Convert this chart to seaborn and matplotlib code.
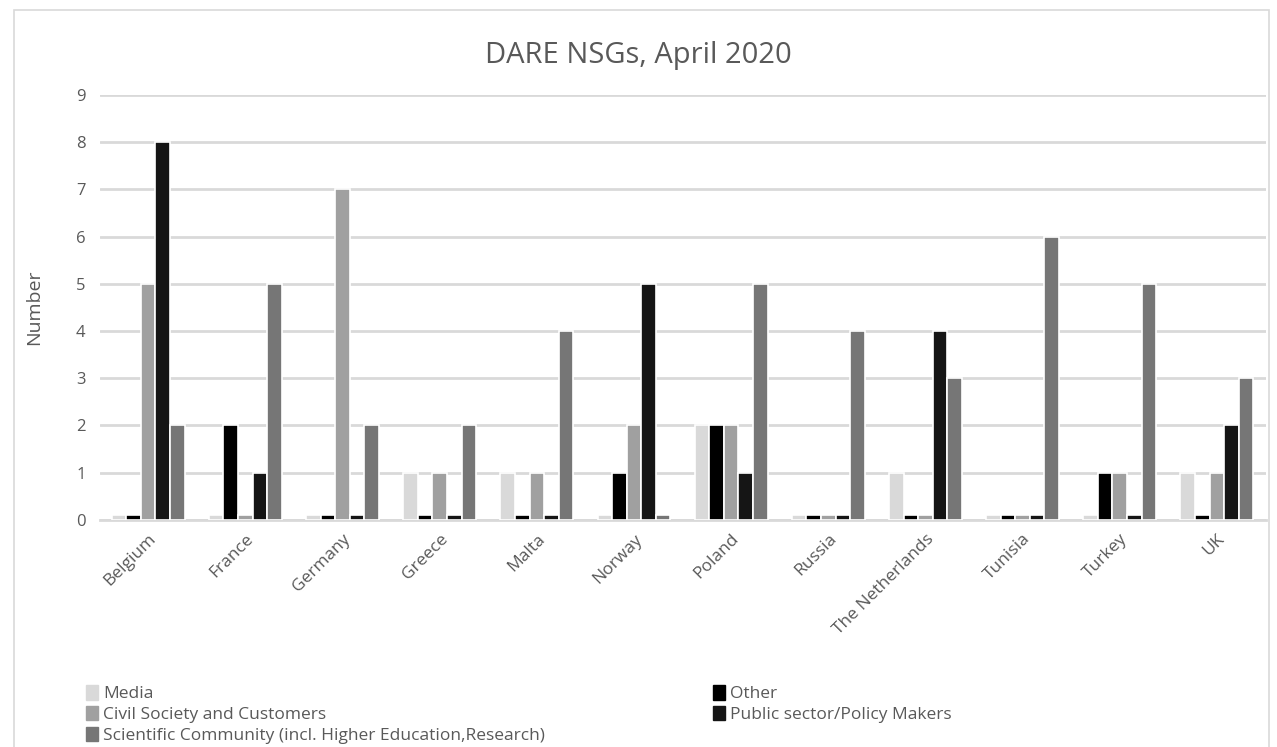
import pandas as pd
import matplotlib.pyplot as plt
import matplotlib.patches as mpatches
import seaborn as sns

# Chart data (zeros drawn as small 0.1 stubs like the original)
countries = ["Belgium", "France", "Germany", "Greece", "Malta", "Norway",
             "Poland", "Russia", "The Netherlands", "Tunisia", "Turkey", "UK"]
groups = ["Media", "Other", "Civil Society and Customers",
          "Public sector/Policy Makers",
          "Scientific Community (incl. Higher Education,Research)"]
media = [0.1, 0.1, 0.1, 1, 1, 0.1, 2, 0.1, 1, 0.1, 0.1, 1]
other = [0.1, 2, 0.1, 0.1, 0.1, 1, 2, 0.1, 0.1, 0.1, 1, 0.1]
civil = [5, 0.1, 7, 1, 1, 2, 2, 0.1, 0.1, 0.1, 1, 1]
public = [8, 1, 0.1, 0.1, 0.1, 5, 1, 0.1, 4, 0.1, 0.1, 2]
science = [2, 5, 2, 2, 4, 0.1, 5, 4, 3, 6, 5, 3]
colors = ["#d9d9d9", "#000000", "#a0a0a0", "#151515", "#767676"]

rows = []
for g, vals in zip(groups, [media, other, civil, public, science]):
    for c, v in zip(countries, vals):
        rows.append({"country": c, "group": g, "value": v})
df = pd.DataFrame(rows)

sns.set_style("white")
plt.rcParams["font.family"] = ["Open Sans", "DejaVu Sans"]
text_col = "#595959"

fig = plt.figure(figsize=(12.77, 7.47), dpi=100)
ax = fig.add_axes([0.078, 0.304, 0.913, 0.569])

sns.barplot(data=df, x="country", y="value", hue="group", hue_order=groups,
            palette=colors, width=0.75, edgecolor="white", linewidth=1.2,
            ax=ax, legend=False, zorder=3)

ax.set_ylim(0, 9)
ax.set_yticks(range(0, 10))
ax.grid(axis="y", color="#d9d9d9", linewidth=2, zorder=0)
ax.set_axisbelow(True)
for s in ["top", "right", "left"]:
    ax.spines[s].set_visible(False)
ax.spines["bottom"].set_color("#d9d9d9")
ax.spines["bottom"].set_linewidth(2)
ax.tick_params(axis="y", length=0, labelsize=12, colors=text_col, pad=10)
ax.tick_params(axis="x", length=0, labelsize=12.5, colors=text_col, pad=8)
plt.setp(ax.get_xticklabels(), rotation=45, ha="right", rotation_mode="anchor")
ax.set_xlabel("")
ax.set_ylabel("Number", fontsize=14, color=text_col, labelpad=24)

fig.text(0.5, 0.926, "DARE NSGs, April 2020", ha="center", va="center",
         fontsize=21, color=text_col)

# legend in two columns like the original
handles = {g: mpatches.Patch(color=c) for g, c in zip(groups, colors)}
left = [groups[0], groups[2], groups[4]]
right = [groups[1], groups[3]]
kw = dict(frameon=False, fontsize=12.5, labelcolor=text_col, handlelength=0.7,
          handleheight=0.9, handletextpad=0.3, labelspacing=0.2,
          borderaxespad=0, loc="upper left")
fig.legend([handles[g] for g in left], left, bbox_to_anchor=(0.062, 0.092), **kw)
fig.legend([handles[g] for g in right], right, bbox_to_anchor=(0.553, 0.092), **kw)

# light chart frame
fig.patches.append(mpatches.Rectangle((0.011, -0.05), 0.983, 1.037,
                                      transform=fig.transFigure, fill=False,
                                      edgecolor="#d9d9d9", linewidth=1.2))

plt.savefig("out.png", dpi=100)
